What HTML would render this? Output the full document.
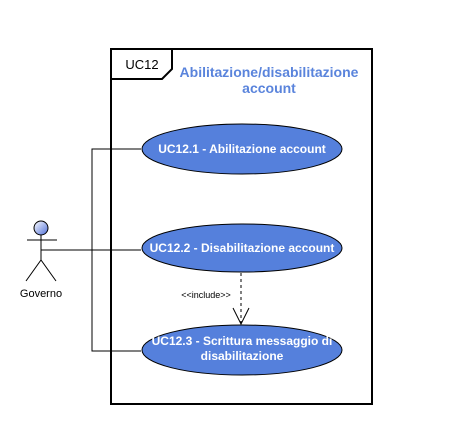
<!DOCTYPE html>
<html><head><style>body{margin:0;background:#fff}</style></head><body>
<svg width="458" height="420" xmlns="http://www.w3.org/2000/svg" font-family="Liberation Sans, sans-serif">
<defs><linearGradient id="g" x1="0" y1="0" x2="1" y2="1"><stop offset="0" stop-color="#fff"/><stop offset="1" stop-color="#4f6fd8"/></linearGradient></defs>
<rect x="111" y="49" width="261" height="355" fill="#fff" stroke="#000" stroke-width="2"/>
<path d="M111 79 L162 79 L172 69 L172 49" fill="none" stroke="#000" stroke-width="2"/>
<text x="142" y="69" font-size="13" text-anchor="middle">UC12</text>
<text x="269" y="77" font-size="14" font-weight="bold" fill="#5a84dc" text-anchor="middle">Abilitazione/disabilitazione</text>
<text x="269" y="93" font-size="14" font-weight="bold" fill="#5a84dc" text-anchor="middle">account</text>
<g stroke="#000" fill="none" stroke-width="1">
<path d="M41 250 H141 M141 149 H92 V351 H141"/>
<line x1="241" y1="273" x2="241" y2="324" stroke-dasharray="3,3"/>
<path d="M233 308 L241 324 L249 308"/>
</g>
<g fill="#5580dc" stroke="#000" stroke-width="1">
<ellipse cx="242" cy="149" rx="100" ry="25"/>
<ellipse cx="242" cy="248" rx="100" ry="24"/>
<ellipse cx="242" cy="350" rx="100" ry="25"/>
</g>
<g fill="#fff" font-size="12" font-weight="bold" text-anchor="middle">
<text x="242" y="153">UC12.1 - Abilitazione account</text>
<text x="242" y="252">UC12.2 - Disabilitazione account</text>
<text x="242" y="345">UC12.3 - Scrittura messaggio di</text>
<text x="242" y="360">disabilitazione</text>
</g>
<text x="206" y="298" font-size="9" text-anchor="middle">&lt;&lt;include&gt;&gt;</text>
<circle cx="41" cy="228" r="7" fill="url(#g)" stroke="#000"/>
<g stroke="#000" fill="none"><path d="M41 235 V260 M27 240 H57 M26 281 L41 260 L56 281"/></g>
<text x="41" y="297" font-size="11" text-anchor="middle">Governo</text>
</svg>
</body></html>
